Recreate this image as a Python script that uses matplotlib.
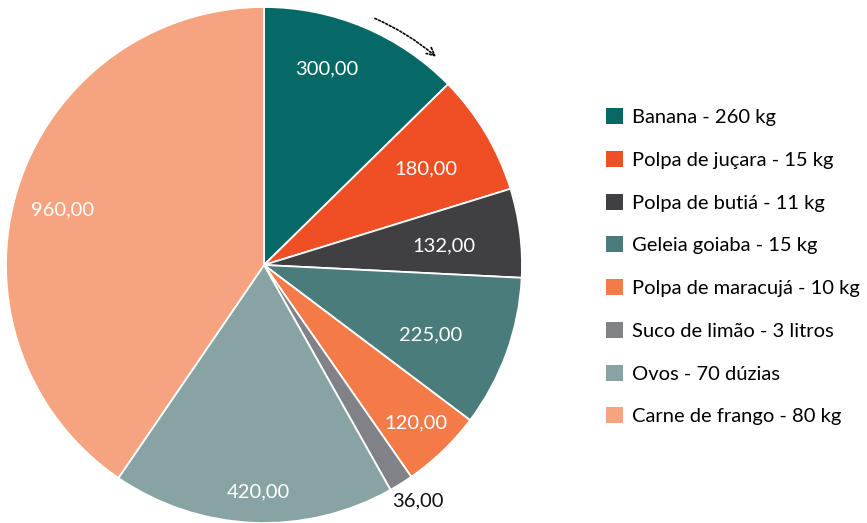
import numpy as np
import matplotlib
matplotlib.use("Agg")
import matplotlib.pyplot as plt

plt.rcParams['font.family'] = ['Lato', 'DejaVu Sans']

values = [300, 180, 132, 225, 120, 36, 420, 960]
value_labels = ["300,00", "180,00", "132,00", "225,00", "120,00", "36,00", "420,00", "960,00"]
legend_labels = ["Banana - 260 kg", "Polpa de juçara - 15 kg", "Polpa de butiá - 11 kg",
                 "Geleia goiaba - 15 kg", "Polpa de maracujá - 10 kg", "Suco de limão - 3 litros",
                 "Ovos - 70 dúzias", "Carne de frango - 80 kg"]
colors = ["#076868", "#F04F25", "#404042", "#4A7C7C", "#F47A47", "#808287", "#88A3A3", "#F6A47F"]
label_r = [0.80, 0.73, 0.70, 0.70, 0.85, 1.09, 0.88, 0.81]
label_dang = [5, 0, -1, -3, 0, 1.0, 1.0, 2]
label_c = ["white", "white", "white", "white", "white", "#111111", "white", "white"]

W, H = 867, 523
fig = plt.figure(figsize=(W / 100, H / 100), dpi=100)
ax = fig.add_axes([6 / W, 0 / H, 516 / W, 516 / H])
wedges, _ = ax.pie(values, colors=colors, startangle=90, counterclock=False, radius=1,
                   wedgeprops=dict(edgecolor="white", linewidth=1.3))
ax.set_xlim(-1, 1)
ax.set_ylim(-1, 1)
ax.set_aspect("equal")
ax.axis("off")

for w, txt, r, c, da in zip(wedges, value_labels, label_r, label_c, label_dang):
    ang = np.deg2rad((w.theta1 + w.theta2) / 2 + da)
    ax.text(r * np.cos(ang), r * np.sin(ang), txt, color=c, fontsize=14.5,
            ha="center", va="center")

# dotted direction arrow
ax.annotate("", xy=(0.675, 0.80), xytext=(0.42, 0.96),
            arrowprops=dict(arrowstyle="->", linestyle=(0, (1.2, 1.2)), color="black",
                            lw=1.2, connectionstyle="arc3,rad=-0.08",
                            mutation_scale=14))

leg = fig.legend(wedges, legend_labels, loc="upper left",
                 bbox_to_anchor=(606 / W, 1 - 108 / H), frameon=False, fontsize=14.5,
                 handlelength=0.85, handleheight=0.85, handletextpad=0.45,
                 labelspacing=1.23, borderaxespad=0, borderpad=0)
for h in leg.legend_handles:
    h.set_edgecolor("none")

fig.savefig("out.png", dpi=100, facecolor="white")
